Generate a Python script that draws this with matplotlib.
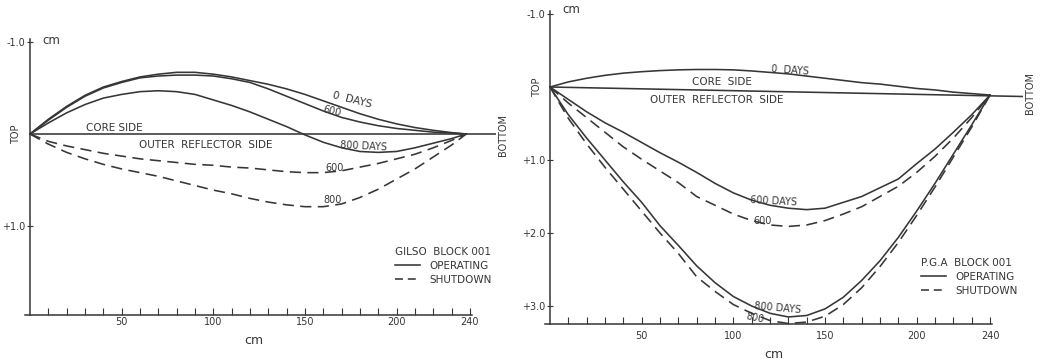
import matplotlib
matplotlib.use("Agg")
import matplotlib.pyplot as plt
from matplotlib.lines import Line2D

plt.rcParams['font.family'] = ['DejaVu Sans']

INK = '#363636'

# ---------------- data: left panel (GILSO BLOCK 001) ----------------
gilso_x = [0, 10, 20, 30, 40, 50, 60, 70, 80, 90, 100, 110, 120, 130, 140, 150,
           160, 170, 180, 190, 200, 210, 220, 230, 238]
gilso_op_0 = [0, -0.16, -0.30, -0.42, -0.51, -0.57, -0.62, -0.65, -0.67, -0.67, -0.65,
              -0.62, -0.58, -0.54, -0.49, -0.43, -0.36, -0.29, -0.22, -0.16, -0.11,
              -0.07, -0.04, -0.015, 0]
gilso_op_600 = [0, -0.15, -0.29, -0.41, -0.50, -0.56, -0.61, -0.63, -0.64, -0.64, -0.63,
                -0.60, -0.56, -0.49, -0.41, -0.33, -0.25, -0.18, -0.13, -0.09, -0.06,
                -0.04, -0.02, -0.01, 0]
gilso_op_800 = [0, -0.12, -0.23, -0.32, -0.39, -0.43, -0.46, -0.47, -0.46, -0.43, -0.37,
                -0.31, -0.24, -0.16, -0.08, 0.01, 0.09, 0.15, 0.19, 0.20, 0.19, 0.15,
                0.10, 0.05, 0]
gilso_sd_600 = [0, 0.08, 0.13, 0.17, 0.21, 0.24, 0.27, 0.29, 0.31, 0.33, 0.34, 0.36,
                0.37, 0.39, 0.41, 0.42, 0.42, 0.40, 0.36, 0.32, 0.27, 0.22, 0.15, 0.07, 0]
gilso_sd_800 = [0, 0.11, 0.20, 0.27, 0.33, 0.38, 0.42, 0.46, 0.51, 0.56, 0.61, 0.65,
                0.70, 0.74, 0.77, 0.79, 0.79, 0.76, 0.69, 0.60, 0.49, 0.38, 0.25, 0.12, 0]

# ---------------- data: right panel (P.G.A BLOCK 001) ----------------
pga_x = [0, 10, 20, 30, 40, 50, 60, 70, 80, 90, 100, 110, 120, 130, 140, 150,
         160, 170, 180, 190, 200, 210, 220, 230, 240]
pga_op_0 = [0, -0.07, -0.12, -0.16, -0.19, -0.21, -0.225, -0.235, -0.24, -0.24, -0.235,
            -0.22, -0.20, -0.18, -0.15, -0.12, -0.09, -0.06, -0.04, -0.01, 0.02, 0.04,
            0.07, 0.09, 0.11]
pga_op_600 = [0, 0.17, 0.34, 0.49, 0.62, 0.76, 0.90, 1.03, 1.17, 1.32, 1.45, 1.55, 1.62,
              1.66, 1.68, 1.66, 1.58, 1.50, 1.38, 1.26, 1.05, 0.85, 0.62, 0.38, 0.11]
pga_sd_600 = [0, 0.22, 0.42, 0.62, 0.82, 0.99, 1.15, 1.31, 1.50, 1.62, 1.74, 1.83, 1.89,
              1.91, 1.89, 1.83, 1.74, 1.64, 1.50, 1.36, 1.17, 0.95, 0.70, 0.42, 0.11]
pga_op_800 = [0, 0.38, 0.70, 1.00, 1.30, 1.58, 1.90, 2.17, 2.45, 2.68, 2.87, 3.00, 3.10,
              3.15, 3.13, 3.04, 2.88, 2.65, 2.38, 2.06, 1.70, 1.32, 0.92, 0.52, 0.11]
pga_sd_800 = [0, 0.43, 0.78, 1.10, 1.40, 1.70, 2.00, 2.28, 2.60, 2.80, 2.98, 3.10, 3.20,
              3.24, 3.22, 3.14, 2.98, 2.75, 2.46, 2.13, 1.76, 1.37, 0.96, 0.55, 0.11]
pga_divider_x = [0, 258]
pga_divider_y = [0.0, 0.13]

x_major = [50, 100, 150, 200, 240]
x_major_labels = ['50', '100', '150', '200', '240']
x_minor = list(range(10, 240, 10))
gilso_yticks = [-1.0, 1.0]
gilso_ylabels = ['-1.0', '+1.0']
pga_yticks = [-1.0, 1.0, 2.0, 3.0]
pga_ylabels = ['-1.0', '+1.0', '+2.0', '+3.0']

W, H = 1048, 359
fig = plt.figure(figsize=(W / 100, H / 100), dpi=100)
fig.patch.set_facecolor('white')


def make_axes(px_left, px_right, px_top, px_bottom):
    return fig.add_axes([px_left / W, 1 - px_bottom / H,
                         (px_right - px_left) / W, (px_bottom - px_top) / H])


LW = 1.15
DASH = (7, 4)
FS = 7.5


def style_axes(ax, xlim, ylim, yticks, ylabels, xpad):
    ax.set_xlim(*xlim)
    ax.set_ylim(*ylim)
    ax.patch.set_alpha(0)
    for s in ['top', 'right']:
        ax.spines[s].set_visible(False)
    ax.spines['left'].set_position(('data', 0))
    ax.spines['bottom'].set_bounds(xlim[0], 241)
    for s in ['left', 'bottom']:
        ax.spines[s].set_color(INK)
        ax.spines[s].set_linewidth(1.1)
    ax.set_xticks(x_major)
    ax.set_xticklabels(x_major_labels)
    ax.set_xticks(x_minor, minor=True)
    ax.tick_params(axis='x', which='both', direction='in', length=5, width=0.8,
                   color=INK, labelsize=7, labelcolor=INK, pad=xpad)
    ax.set_yticks(yticks)
    ax.set_yticklabels(ylabels)
    ax.tick_params(axis='y', direction='inout', length=5, width=0.8, color=INK,
                   labelsize=7, labelcolor=INK, pad=1)


def txt(ax, x, y, s, rot=0, ha='center', va='center', fs=FS):
    ax.text(x, y, s, rotation=rot, ha=ha, va=va, fontsize=fs, color=INK,
            clip_on=False, rotation_mode='anchor')


def legend(ax, title, anchor):
    handles = [Line2D([], [], color=INK, lw=LW),
               Line2D([], [], color=INK, lw=LW, dashes=(5, 3))]
    leg = ax.legend(handles, ['OPERATING', 'SHUTDOWN'], title=title,
                    loc='upper left', bbox_to_anchor=anchor, frameon=False,
                    fontsize=FS, title_fontsize=FS, handlelength=2.4,
                    handletextpad=0.9, borderpad=0, borderaxespad=0,
                    labelspacing=0.35, alignment='left')
    for t in leg.get_texts():
        t.set_color(INK)
    leg.get_title().set_color(INK)


# ---------------- left panel ----------------
axL = make_axes(24.5, 495.6, 39.2, 315)
style_axes(axL, (-3, 254), (1.967, -1.03), gilso_yticks, gilso_ylabels, xpad=1.5)
axL.axhline(0, xmin=3 / 257, xmax=1, color=INK, lw=LW)
for vals in (gilso_op_0, gilso_op_600, gilso_op_800):
    axL.plot(gilso_x, vals, color=INK, lw=LW)
for vals in (gilso_sd_600, gilso_sd_800):
    axL.plot(gilso_x, vals, color=INK, lw=LW, dashes=DASH)

txt(axL, 46, -0.07, 'CORE SIDE')
txt(axL, 96, 0.12, 'OUTER  REFLECTOR  SIDE')
txt(axL, 176, -0.37, '0  DAYS', rot=-14)
txt(axL, 165, -0.25, '600', rot=-14, fs=7)
txt(axL, 182, 0.13, '800 DAYS', rot=-3, fs=7)
txt(axL, 166, 0.37, '600', fs=7)
txt(axL, 165, 0.72, '800', fs=7)
txt(axL, -7.6, 0, 'TOP', rot=90, fs=7)
txt(axL, 258, 0.01, 'BOTTOM', rot=90, fs=7)
txt(axL, 6.5, -1.02, 'cm', ha='left', fs=8.5)
txt(axL, 122, 2.24, 'cm', fs=9)
legend(axL, 'GILSO  BLOCK 001', (0.787, 0.245))

# ---------------- right panel ----------------
axR = make_axes(544.5, 1023, 11.1, 324.25)
style_axes(axR, (-3, 258), (3.25, -1.04), pga_yticks, pga_ylabels, xpad=5)
axR.plot(pga_divider_x, pga_divider_y, color=INK, lw=LW)
for vals in (pga_op_0, pga_op_600, pga_op_800):
    axR.plot(pga_x, vals, color=INK, lw=LW)
for vals in (pga_sd_600, pga_sd_800):
    axR.plot(pga_x, vals, color=INK, lw=LW, dashes=DASH)

txt(axR, 131, -0.23, '0  DAYS', rot=-4, fs=7)
txt(axR, 94, -0.07, 'CORE  SIDE')
txt(axR, 91, 0.18, 'OUTER  REFLECTOR  SIDE')
txt(axR, 122, 1.57, '600 DAYS', rot=-3, fs=7)
txt(axR, 116, 1.83, '600', fs=7)
txt(axR, 124, 3.03, '800 DAYS', rot=-5, fs=7)
txt(axR, 112, 3.16, '800', rot=-12, fs=7)
txt(axR, -7, 0, 'TOP', rot=90, fs=7)
txt(axR, 262, 0.08, 'BOTTOM', rot=90, fs=7)
txt(axR, 7, -1.06, 'cm', ha='left', fs=8.5)
txt(axR, 122, 3.66, 'cm', fs=9)
legend(axR, 'P.G.A  BLOCK 001', (0.786, 0.21))

fig.savefig('out.png', dpi=100, facecolor='white')
